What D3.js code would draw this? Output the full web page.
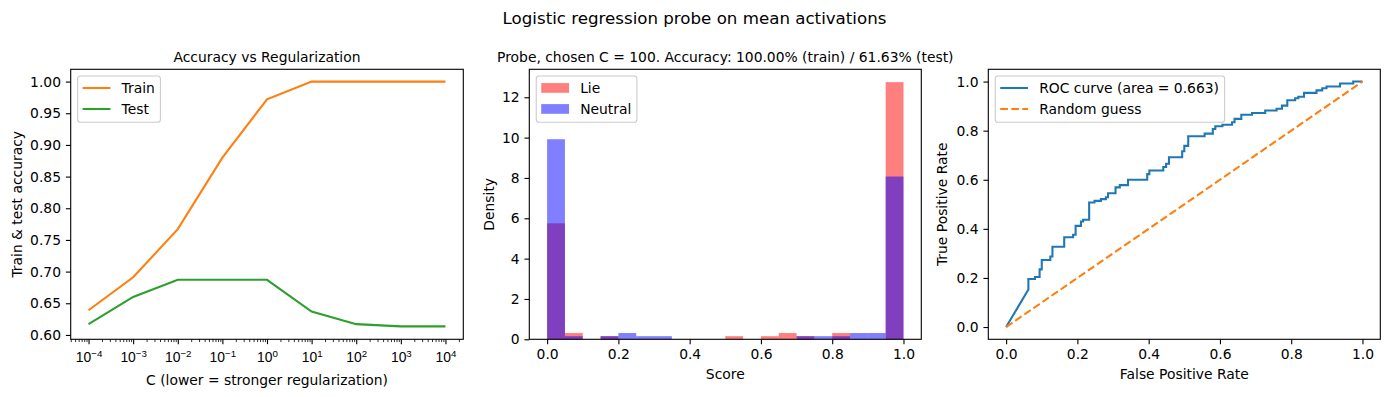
<!DOCTYPE html>
<html><head><meta charset="utf-8">
<script src="https://cdn.jsdelivr.net/npm/d3@7/dist/d3.min.js"></script>
<style>
html,body{margin:0;padding:0;background:#fff;}
svg{display:block;font-family:"DejaVu Sans",sans-serif;}
</style></head>
<body>
<svg id="chart" width="1389" height="397"></svg>
<script>
// ---------------- DATA ----------------
const cValues = [1e-4, 1e-3, 1e-2, 1e-1, 1e0, 1e1, 1e2, 1e3, 1e4];
const trainAcc = [0.639, 0.691, 0.767, 0.880, 0.972, 1.0, 1.0, 1.0, 1.0];
const testAcc  = [0.617, 0.660, 0.687, 0.687, 0.687, 0.637, 0.617, 0.6135, 0.6135];
const logTickExps = [-4, -3, -2, -1, 0, 1, 2, 3, 4];
const accTicks = [0.60, 0.65, 0.70, 0.75, 0.80, 0.85, 0.90, 0.95, 1.00];

const binEdges = [0,0.05,0.1,0.15,0.2,0.25,0.3,0.35,0.4,0.45,0.5,0.55,0.6,0.65,0.7,0.75,0.8,0.85,0.9,0.95,1.0];
const lieDensity     = [5.75,0.31,0,0.155,0,0,0,0,0,0,0.155,0,0.155,0.31,0.155,0,0.31,0,0,12.75];
const neutralDensity = [9.92,0.155,0,0.155,0.31,0.155,0.155,0,0,0,0,0,0,0,0.155,0.155,0.155,0.31,0.31,8.07];
const densityTicks = [0,2,4,6,8,10,12];
const unitTicks = [0,0.2,0.4,0.6,0.8,1.0];

const rocFpr = [0,0.0625,0.0625,0.081,0.081,0.094,0.094,0.100,0.100,0.124,0.124,0.130,0.130,0.163,0.163,0.188,0.188,0.195,0.195,0.210,0.210,0.216,0.216,0.233,0.233,0.248,0.248,0.266,0.266,0.280,0.280,0.286,0.286,0.307,0.307,0.319,0.319,0.342,0.342,0.396,0.396,0.402,0.402,0.441,0.441,0.449,0.449,0.457,0.457,0.494,0.494,0.500,0.500,0.511,0.511,0.557,0.557,0.580,0.580,0.587,0.587,0.607,0.607,0.634,0.634,0.641,0.641,0.660,0.660,0.690,0.690,0.727,0.727,0.759,0.759,0.774,0.774,0.789,0.789,0.811,0.811,0.820,0.820,0.836,0.836,0.871,0.871,0.887,0.887,0.899,0.899,0.937,0.937,0.974,0.974,1.0];
const rocTpr = [0,0.153,0.196,0.196,0.204,0.204,0.235,0.235,0.273,0.273,0.287,0.287,0.327,0.327,0.366,0.366,0.376,0.376,0.412,0.412,0.430,0.430,0.437,0.437,0.507,0.507,0.514,0.514,0.521,0.521,0.529,0.529,0.545,0.545,0.569,0.569,0.578,0.578,0.600,0.600,0.623,0.623,0.638,0.638,0.652,0.652,0.665,0.665,0.692,0.692,0.716,0.716,0.738,0.738,0.777,0.777,0.788,0.788,0.807,0.807,0.818,0.818,0.824,0.824,0.834,0.834,0.848,0.848,0.865,0.865,0.872,0.872,0.882,0.882,0.889,0.889,0.902,0.902,0.924,0.924,0.932,0.932,0.938,0.938,0.954,0.954,0.964,0.964,0.973,0.973,0.980,0.980,0.992,0.992,1.0,1.0];
const rocArea = 0.663;
const randomGuess = [0, 1];

const suptitle = "Logistic regression probe on mean activations";
const titles = ["Accuracy vs Regularization", "Probe, chosen C = 100. Accuracy: 100.00% (train) / 61.63% (test)", ""];

// ---------------- LAYOUT ----------------
const FS = 13.89, LW = 2.08, TICK = 4.86, MINOR = 2.78, PAD = 4.86;
const axTop = 69.3, axBot = 339.3;
const panels = [{l:70.7, r:463.3}, {l:529.3, r:921.3}, {l:988.3, r:1380.3}];
const svg = d3.select("#chart");
const C = {orange:"#ff7f0e", green:"#2ca02c", blue:"#1f77b4"};

svg.append("text").attr("x", 694.5).attr("y", 18.5).attr("text-anchor","middle")
  .attr("dominant-baseline","central").attr("font-size", 16.67).attr("fill","#000").text(suptitle);

function styleAxis(g){
  g.selectAll(".domain").remove();
  g.selectAll(".tick line").attr("stroke","#000").attr("stroke-width",1.1);
  g.selectAll(".tick text").attr("font-size",FS).attr("fill","#000").attr("font-family","DejaVu Sans");
}
function frame(p){
  svg.append("rect").attr("x",p.l).attr("y",axTop).attr("width",p.r-p.l).attr("height",axBot-axTop)
    .attr("fill","none").attr("stroke","#000").attr("stroke-width",1.1);
}
function ylabel(x, text){
  svg.append("text").attr("transform",`translate(${x},${(axTop+axBot)/2}) rotate(-90)`)
    .attr("text-anchor","middle").attr("dominant-baseline","central").attr("font-size",FS).text(text);
}
function xlabel(p, y, text){
  svg.append("text").attr("x",(p.l+p.r)/2).attr("y",y).attr("text-anchor","middle")
    .attr("dominant-baseline","central").attr("font-size",FS).text(text);
}
function title(p, text){
  svg.append("text").attr("x",(p.l+p.r)/2).attr("y",56.5).attr("text-anchor","middle")
    .attr("dominant-baseline","central").attr("font-size",FS).text(text);
}
function legend(p, items){
  const g = svg.append("g");
  const bx = p.l + 6.94, by = axTop + 6.7;
  const hx = bx + 5.0, tx = hx + 27.8 + 11.1;
  const rowY = [by + 12, by + 33];
  const box = g.append("rect").attr("x",bx).attr("y",by).attr("height",46.3).attr("rx",2.8)
    .attr("fill","#fff").attr("fill-opacity",0.8).attr("stroke","#cccccc").attr("stroke-width",1.1);
  let maxW = 0;
  items.forEach((it,i)=>{
    if(it.type==="patch"){
      g.append("rect").attr("x",hx).attr("y",rowY[i]-4.9).attr("width",27.8).attr("height",9.7)
        .attr("fill",it.color).attr("fill-opacity",0.5);
    } else {
      g.append("line").attr("x1",hx).attr("x2",hx+27.8).attr("y1",rowY[i]).attr("y2",rowY[i])
        .attr("stroke",it.color).attr("stroke-width",LW).attr("stroke-dasharray",it.dash||null);
    }
    const t = g.append("text").attr("x",tx).attr("y",rowY[i]).attr("dominant-baseline","central")
      .attr("font-size",FS).text(it.label);
    maxW = Math.max(maxW, t.node().getComputedTextLength());
  });
  box.attr("width", tx + maxW + 5.56 - bx);
}

// ---------------- PANEL 1 ----------------
{
  const p = panels[0];
  const x = d3.scaleLog().domain([Math.pow(10,-4.4), Math.pow(10,4.4)]).range([p.l, p.r]);
  const y = d3.scaleLinear().domain([0.5931, 1.0194]).range([axBot, axTop]);
  const minor = [];
  for(let e=-5;e<=4;e++) for(let k=2;k<=9;k++){const v=k*Math.pow(10,e); if(v>=x.domain()[0]&&v<=x.domain()[1]) minor.push(v);}
  svg.append("g").attr("transform",`translate(0,${axBot})`)
    .call(d3.axisBottom(x).tickValues(minor).tickSize(MINOR).tickFormat(""))
    .call(g=>{g.selectAll(".domain").remove(); g.selectAll(".tick line").attr("stroke","#000").attr("stroke-width",0.8);});
  const gx = svg.append("g").attr("transform",`translate(0,${axBot})`)
    .call(d3.axisBottom(x).tickValues(logTickExps.map(e=>Math.pow(10,e))).tickSize(TICK).tickPadding(PAD).tickFormat(""))
    .call(styleAxis);
  gx.selectAll(".tick").each(function(d,i){
    const e = logTickExps[i];
    const t = d3.select(this).append("text").attr("y", TICK+PAD+3).attr("dy","0.71em")
      .attr("text-anchor","middle").attr("font-size",FS).attr("fill","#000");
    t.append("tspan").text("10");
    t.append("tspan").attr("dy","-0.5em").attr("font-size",FS*0.7).text(e<0?"\u2212"+(-e):String(e));
  });
  svg.append("g").attr("transform",`translate(${p.l},0)`)
    .call(d3.axisLeft(y).tickValues(accTicks).tickSize(TICK).tickPadding(PAD).tickFormat(d3.format(".2f")))
    .call(styleAxis);
  const line = d3.line().x((d,i)=>x(cValues[i])).y(d=>y(d));
  svg.append("path").datum(trainAcc).attr("d",line).attr("fill","none").attr("stroke",C.orange).attr("stroke-width",LW);
  svg.append("path").datum(testAcc).attr("d",line).attr("fill","none").attr("stroke",C.green).attr("stroke-width",LW);
  frame(p);
  title(p, titles[0]);
  ylabel(17, "Train & test accuracy");
  xlabel(p, 379.5, "C (lower = stronger regularization)");
  legend(p, [{label:"Train",color:C.orange},{label:"Test",color:C.green}]);
}

// ---------------- PANEL 2 ----------------
{
  const p = panels[1];
  const x = d3.scaleLinear().domain([-0.05, 1.05]).range([p.l, p.r]);
  const y = d3.scaleLinear().domain([0, 12.75*1.05]).range([axBot, axTop]);
  svg.append("g").attr("transform",`translate(0,${axBot})`)
    .call(d3.axisBottom(x).tickValues(unitTicks).tickSize(TICK).tickPadding(PAD).tickFormat(d3.format(".1f")))
    .call(styleAxis);
  svg.append("g").attr("transform",`translate(${p.l},0)`)
    .call(d3.axisLeft(y).tickValues(densityTicks).tickSize(TICK).tickPadding(PAD).tickFormat(d3.format("d")))
    .call(styleAxis);
  const drawHist = (vals, color) => svg.append("g").selectAll("rect")
    .data(vals.map((v,i)=>({v, x0:binEdges[i], x1:binEdges[i+1]})).filter(d=>d.v>0))
    .join("rect").attr("x",d=>x(d.x0)).attr("width",d=>x(d.x1)-x(d.x0))
    .attr("y",d=>y(d.v)).attr("height",d=>y(0)-y(d.v))
    .attr("fill",color).attr("fill-opacity",0.5);
  drawHist(lieDensity, "#ff0000");
  drawHist(neutralDensity, "#0000ff");
  frame(p);
  title(p, titles[1]);
  ylabel(488.5, "Density");
  xlabel(p, 374, "Score");
  legend(p, [{label:"Lie",color:"#ff0000",type:"patch"},{label:"Neutral",color:"#0000ff",type:"patch"}]);
}

// ---------------- PANEL 3 ----------------
{
  const p = panels[2];
  const x = d3.scaleLinear().domain([-0.05, 1.05]).range([p.l, p.r]);
  const y = d3.scaleLinear().domain([-0.05, 1.05]).range([axBot, axTop]);
  svg.append("g").attr("transform",`translate(0,${axBot})`)
    .call(d3.axisBottom(x).tickValues(unitTicks).tickSize(TICK).tickPadding(PAD).tickFormat(d3.format(".1f")))
    .call(styleAxis);
  svg.append("g").attr("transform",`translate(${p.l},0)`)
    .call(d3.axisLeft(y).tickValues(unitTicks).tickSize(TICK).tickPadding(PAD).tickFormat(d3.format(".1f")))
    .call(styleAxis);
  const line = d3.line().x((d,i)=>x(rocFpr[i])).y(d=>y(d));
  svg.append("path").datum(rocTpr).attr("d",line).attr("fill","none").attr("stroke",C.blue).attr("stroke-width",LW);
  const line2 = d3.line().x(d=>x(d)).y(d=>y(d));
  svg.append("path").datum(randomGuess).attr("d",line2).attr("fill","none").attr("stroke",C.orange)
    .attr("stroke-width",LW).attr("stroke-dasharray","7.7,3.33");
  frame(p);
  ylabel(942, "True Positive Rate");
  xlabel(p, 374, "False Positive Rate");
  legend(p, [{label:`ROC curve (area = ${rocArea.toFixed(3)})`,color:C.blue},{label:"Random guess",color:C.orange,dash:"7.7,3.33"}]);
}
</script>
</body></html>
